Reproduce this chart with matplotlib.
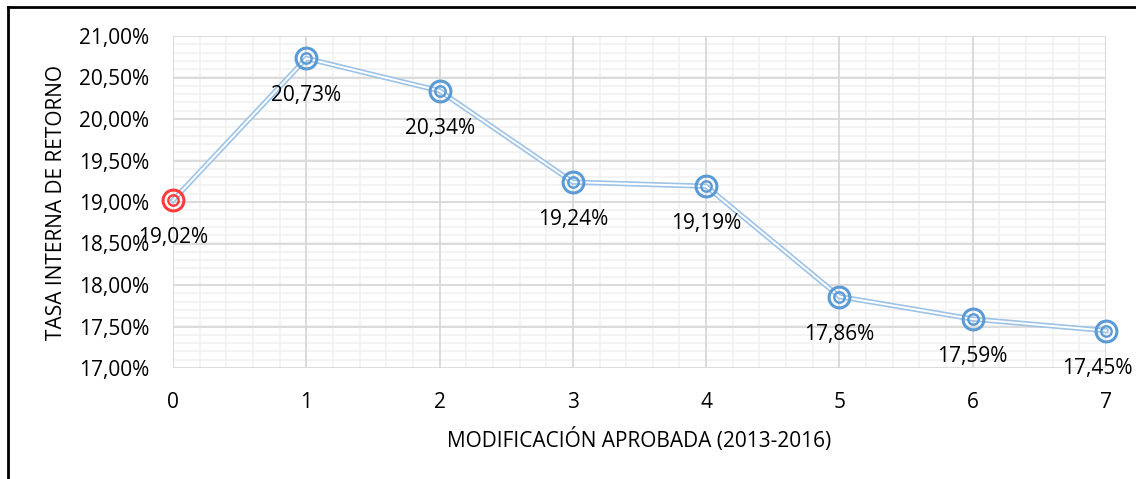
import numpy as np
import matplotlib.pyplot as plt
from matplotlib.lines import Line2D
from matplotlib.ticker import MultipleLocator, FuncFormatter

# values
modificacion = [0, 1, 2, 3, 4, 5, 6, 7]
tir = [19.02, 20.73, 20.34, 19.24, 19.19, 17.86, 17.59, 17.45]

LINE_BLUE = "#9DC3E6"
MARK_BLUE = "#5B9BD5"
MARK_RED = "#FF3B3B"
FONT = "Open Sans"
FS = 15

plt.rcParams['font.family'] = [FONT, 'DejaVu Sans']

fig = plt.figure(figsize=(11.36, 4.79), dpi=100)
ax = fig.add_axes([173 / 1136, 1 - 368 / 479, (1106 - 173) / 1136, (368 - 36) / 479])

ax.set_xlim(0, 7)
ax.set_ylim(17, 21)

# grid drawn by hand so the major lines sit on top of the minor ones
for x in np.arange(0, 7.01, 0.2):
  ax.axvline(x, color='#F2F2F2', lw=1.3, zorder=0.6)
for y in np.arange(17, 21.01, 0.1):
  ax.axhline(y, color='#F2F2F2', lw=1.3, zorder=0.6)
for x in range(0, 8):
  ax.axvline(x, color='#D9D9D9', lw=1.3, zorder=0.7)
for y in np.arange(17, 21.01, 0.5):
  ax.axhline(y, color='#D9D9D9', lw=1.3, zorder=0.7)

# double line (blue outline with a white core)
ax.plot(modificacion, tir, color=LINE_BLUE, lw=3.8, zorder=3, clip_on=False)
ax.plot(modificacion, tir, color="white", lw=1.4, zorder=4, clip_on=False)

# target-style markers, first one red
cols = [MARK_RED] + [MARK_BLUE] * (len(tir) - 1)
for i, (x, y, c) in enumerate(zip(modificacion, tir, cols)):
  ax.plot(x, y, marker='o', ms=15, mfc='none', mec=c, mew=2.2, zorder=5, clip_on=False)
  ax.plot(x, y, marker='o', ms=7.5, mfc='none', mec=c, mew=1.7, zorder=5, clip_on=False)
  dx = -6 if i == len(tir) - 1 else 0  # last label nudged inside the figure
  ax.annotate(f"{y:.2f}%".replace('.', ','), (x, y), xytext=(dx, -27),
              textcoords='offset points', ha='center', va='center',
              fontsize=FS, color='black', zorder=6, annotation_clip=False)

ax.xaxis.set_major_locator(MultipleLocator(1))
ax.yaxis.set_major_locator(MultipleLocator(0.5))
ax.yaxis.set_major_formatter(FuncFormatter(lambda v, p: f"{v:.2f}%".replace('.', ',')))

for s in ax.spines.values():
  s.set_visible(False)
ax.tick_params(which='both', length=0)
ax.tick_params(axis='y', pad=17, labelsize=FS)
ax.tick_params(axis='x', pad=17, labelsize=FS)

ax.set_ylabel("TASA INTERNA DE RETORNO", fontsize=FS, labelpad=9)
ax.set_xlabel("MODIFICACIÓN APROBADA (2013-2016)", fontsize=FS, labelpad=11)

# outer frame: left and top edges only
fig.add_artist(Line2D([7.5 / 1136, 7.5 / 1136], [0, 1 - 6.5 / 479], color='black', lw=2, transform=fig.transFigure))
fig.add_artist(Line2D([7.5 / 1136, 1], [1 - 6.5 / 479, 1 - 6.5 / 479], color='black', lw=2, transform=fig.transFigure))

fig.savefig("out.png", dpi=100)
